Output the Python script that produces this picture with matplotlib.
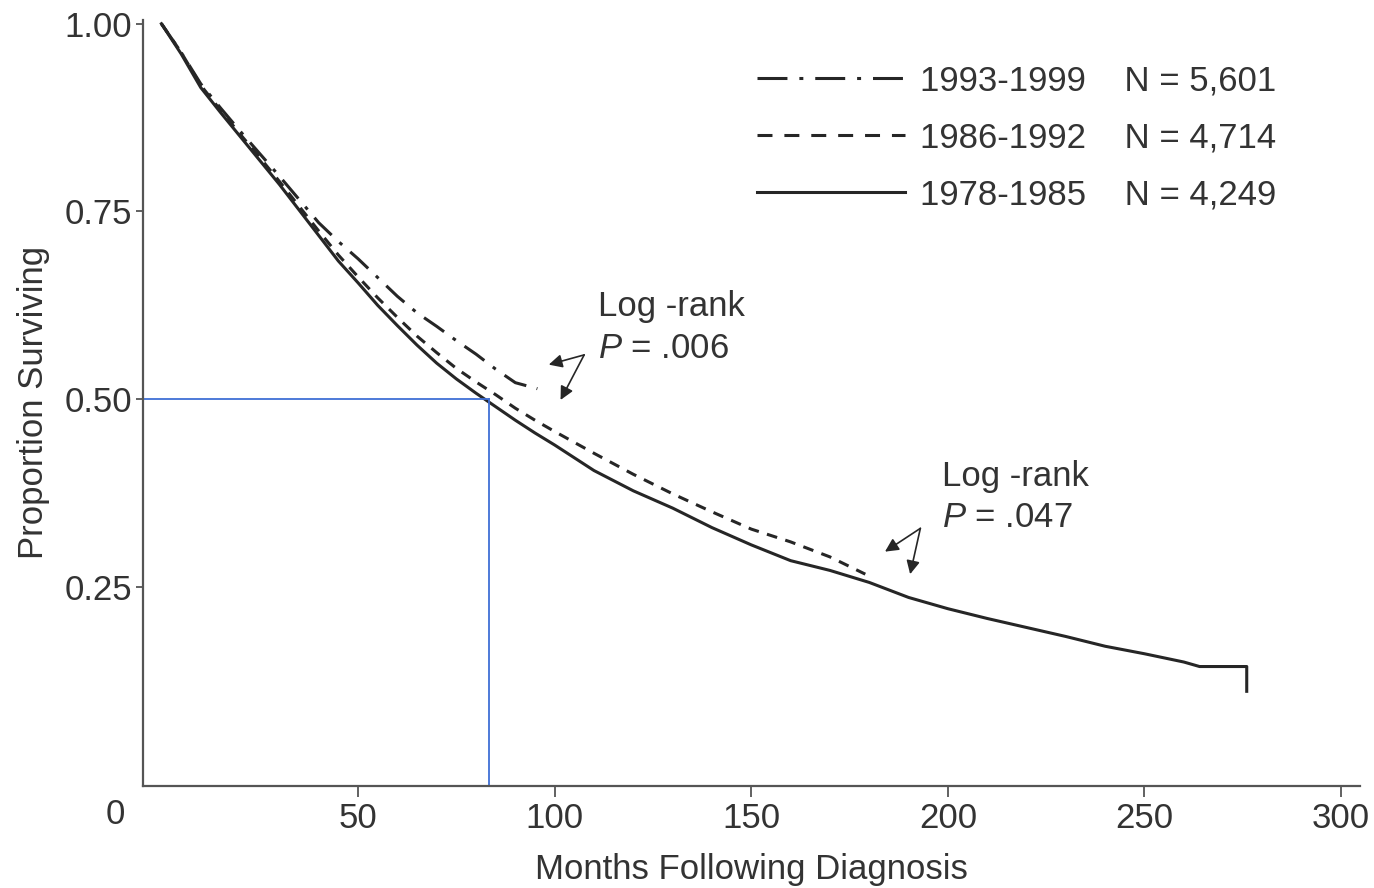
import numpy as np
import matplotlib.pyplot as plt

plt.rcParams['font.family'] = ['Liberation Sans', 'DejaVu Sans']
plt.rcParams['mathtext.fontset'] = 'custom'
plt.rcParams['mathtext.rm'] = 'Liberation Sans'
plt.rcParams['mathtext.it'] = 'Liberation Sans:italic'

# survival curves (months, proportion surviving)
months_7885 = [0, 5, 10, 15, 20, 25, 30, 35, 40, 45, 50, 55, 60, 65, 70, 75, 80, 85,
               90, 95, 100, 110, 120, 130, 140, 150, 160, 170, 180, 190, 200, 210,
               220, 230, 240, 250, 260, 264, 276, 276]
surv_7885 = [1.000, 0.960, 0.915, 0.882, 0.850, 0.818, 0.786, 0.752, 0.718, 0.684,
             0.655, 0.625, 0.598, 0.572, 0.548, 0.527, 0.508, 0.490, 0.472, 0.455,
             0.439, 0.405, 0.378, 0.355, 0.329, 0.306, 0.285, 0.272, 0.256, 0.236,
             0.221, 0.208, 0.196, 0.184, 0.171, 0.161, 0.150, 0.144, 0.144, 0.111]

months_8692 = [0, 5, 10, 15, 20, 25, 30, 35, 40, 45, 50, 55, 60, 65, 70, 75, 80, 85,
               90, 95, 100, 110, 120, 130, 140, 150, 160, 170, 179]
surv_8692 = [1.000, 0.962, 0.918, 0.885, 0.853, 0.822, 0.790, 0.757, 0.724, 0.692,
             0.663, 0.635, 0.609, 0.584, 0.562, 0.541, 0.523, 0.506, 0.488, 0.472,
             0.457, 0.428, 0.400, 0.374, 0.350, 0.327, 0.310, 0.290, 0.267]

months_9399 = [0, 5, 10, 15, 20, 25, 30, 35, 40, 45, 50, 55, 60, 65, 70, 75, 80, 85,
               90, 95.6]
surv_9399 = [1.000, 0.962, 0.920, 0.888, 0.857, 0.827, 0.797, 0.766, 0.735, 0.710,
             0.687, 0.662, 0.637, 0.615, 0.597, 0.578, 0.560, 0.540, 0.522, 0.514]

periods = ['1993-1999', '1986-1992', '1978-1985']
counts = ['5,601', '4,714', '4,249']

median_month = 83.2
median_value = 0.50

ink = '#262626'
txt = '#333333'
fs = 25
fig = plt.figure(figsize=(13.74, 8.88), dpi=100)
ax = fig.add_axes([0.1041, 0.1152, 0.8857, 0.8623])

lw = 2.2
ax.plot(months_9399, surv_9399, color=ink, lw=lw, dashes=[8, 3.5, 1.2, 3.5])
ax.plot(months_8692, surv_8692, color=ink, lw=lw, dashes=[3.5, 2.8])
ax.plot(months_7885, surv_7885, color=ink, lw=lw)

xmin, xmax = -4.68, 304.8
ax.plot([xmin, median_month], [median_value, median_value], color='#3f6fd6', lw=1.3)
ax.plot([median_month, median_month], [median_value, -0.0147], color='#3f6fd6', lw=1.3)

ax.set_xlim(xmin, xmax)
ax.set_ylim(-0.0147, 1.005)

for s in ['top', 'right']:
    ax.spines[s].set_visible(False)
for s in ['left', 'bottom']:
    ax.spines[s].set_color('#555555')
    ax.spines[s].set_linewidth(1.6)

ax.set_xticks([50, 100, 150, 200, 250, 300])
ax.set_yticks([0.25, 0.50, 0.75, 1.00])
ax.set_yticklabels(['0.25', '0.50', '0.75', '1.00'])
ax.tick_params(axis='x', length=8, width=1.3, color='#555555', labelsize=fs,
               labelcolor=txt, pad=4)
ax.tick_params(axis='y', length=5, width=1.3, color='#555555', labelsize=fs,
               labelcolor=txt, pad=3)
ax.text(-0.023, -0.038, '0', transform=ax.transAxes, fontsize=fs, color=txt,
        ha='center', va='center')

ax.set_xlabel('Months Following Diagnosis', fontsize=fs, color=txt, labelpad=13)
ax.set_ylabel('Proportion Surviving', fontsize=fs, color=txt, labelpad=10)

labels = [f'{p}    N = {n}' for p, n in zip(periods, counts)]
handles = [plt.Line2D([], [], color=ink, lw=lw, dashes=[9.8, 3.9, 1.3, 3.9]),
           plt.Line2D([], [], color=ink, lw=lw, dashes=[4.9, 3.9]),
           plt.Line2D([], [], color=ink, lw=lw)]
leg = ax.legend(handles, labels, loc='upper left', bbox_to_anchor=(0.5045, 0.9425),
                frameon=False, fontsize=fs, handlelength=4.27, handletextpad=0.43,
                labelspacing=0.70, borderpad=0, borderaxespad=0)
for t in leg.get_texts():
    t.set_color(txt)

arrow = dict(arrowstyle='-|>', color=ink, lw=1.2, mutation_scale=20, shrinkA=0, shrinkB=0)
ax.text(111, 0.624, 'Log -rank', fontsize=fs, color=txt, va='center')
ax.text(111, 0.567, '$\\it{P}$ = .006', fontsize=fs, color=txt, va='center')
ax.annotate('', xy=(98.5, 0.546), xytext=(107.5, 0.559), arrowprops=arrow)
ax.annotate('', xy=(101.5, 0.499), xytext=(107.5, 0.559), arrowprops=arrow)

ax.text(198.5, 0.397, 'Log -rank', fontsize=fs, color=txt, va='center')
ax.text(198.5, 0.343, '$\\it{P}$ = .047', fontsize=fs, color=txt, va='center')
ax.annotate('', xy=(184, 0.297), xytext=(193, 0.328), arrowprops=arrow)
ax.annotate('', xy=(190.4, 0.267), xytext=(193, 0.328), arrowprops=arrow)

fig.savefig('out.png', dpi=100)
